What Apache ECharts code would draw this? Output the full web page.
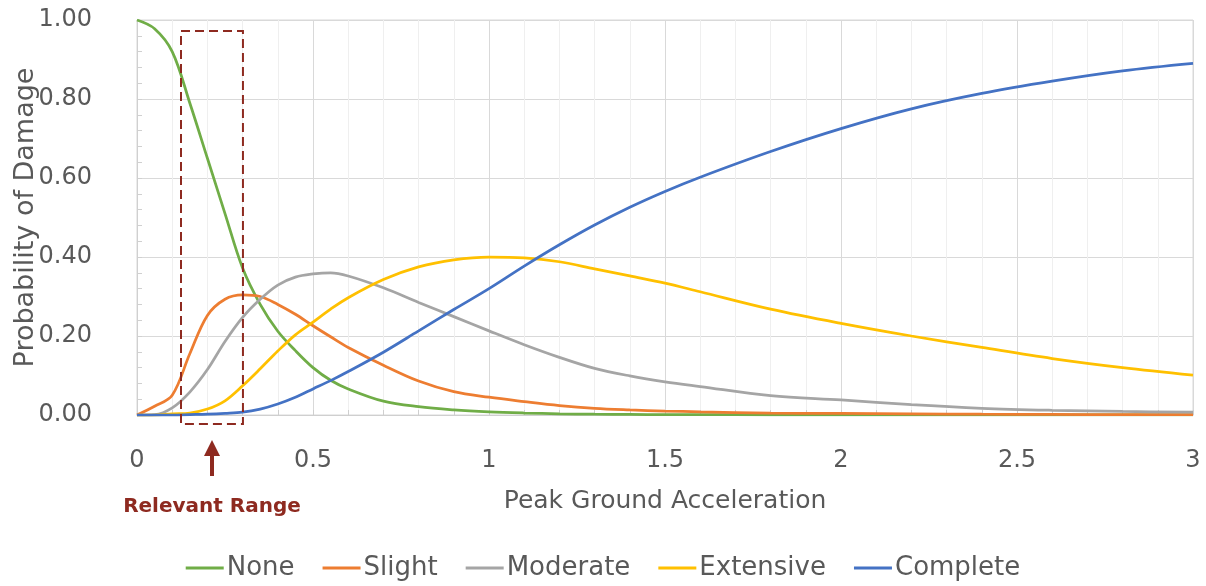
<!DOCTYPE html>
<html>
<head>
<meta charset="utf-8">
<script src="https://cdn.jsdelivr.net/npm/echarts@6/dist/echarts.min.js"></script>
<style>html,body{margin:0;padding:0;background:#fff;}#c{width:1206px;height:586px;}</style>
</head>
<body>
<div id="c"></div>
<script>
// Peak ground acceleration sample points
const pga = [0, 0.05, 0.1, 0.15, 0.2, 0.25, 0.3, 0.35, 0.4, 0.45, 0.5, 0.55, 0.6, 0.7, 0.8, 0.9, 1.0, 1.1, 1.2, 1.3, 1.4, 1.5, 1.6, 1.8, 2.0, 2.2, 2.4, 2.6, 2.8, 3.0];
const none      = [1.00, 0.978, 0.92, 0.79, 0.65, 0.51, 0.372, 0.28, 0.212, 0.163, 0.12, 0.088, 0.066, 0.035, 0.021, 0.013, 0.008, 0.005, 0.003, 0.002, 0.0015, 0.001, 0.0008, 0.0005, 0.0003, 0.0002, 0.0001, 0.0001, 0.0001, 0.0001];
const slight    = [0, 0.022, 0.05, 0.155, 0.252, 0.293, 0.304, 0.30, 0.28, 0.255, 0.226, 0.198, 0.171, 0.126, 0.086, 0.059, 0.045, 0.034, 0.024, 0.017, 0.013, 0.010, 0.008, 0.005, 0.004, 0.003, 0.002, 0.0015, 0.001, 0.001];
const moderate  = [0, 0.001, 0.018, 0.058, 0.115, 0.186, 0.247, 0.293, 0.329, 0.349, 0.357, 0.36, 0.352, 0.322, 0.285, 0.249, 0.213, 0.178, 0.146, 0.118, 0.099, 0.084, 0.072, 0.049, 0.038, 0.026, 0.017, 0.012, 0.009, 0.007];
const extensive = [0, 0, 0.003, 0.005, 0.015, 0.036, 0.074, 0.117, 0.162, 0.203, 0.235, 0.268, 0.297, 0.343, 0.375, 0.393, 0.40, 0.398, 0.388, 0.37, 0.352, 0.334, 0.312, 0.268, 0.232, 0.20, 0.171, 0.143, 0.12, 0.101];
const complete  = [0, 0, 0, 0.001, 0.002, 0.004, 0.007, 0.015, 0.028, 0.045, 0.066, 0.087, 0.11, 0.159, 0.213, 0.267, 0.32, 0.377, 0.431, 0.481, 0.526, 0.566, 0.602, 0.667, 0.725, 0.775, 0.814, 0.845, 0.871, 0.89];
const seriesNames = ['None', 'Slight', 'Moderate', 'Extensive', 'Complete'];
const yTickLabels = ['0.00', '0.20', '0.40', '0.60', '0.80', '1.00'];
const relevantRange = [0.125, 0.301];

const colors = ['#70AD47', '#ED7D31', '#A5A5A5', '#FFC000', '#4472C4'];
const allData = [none, slight, moderate, extensive, complete];
const FONT = '"DejaVu Sans", sans-serif';
const RED = '#8E2A20';
const TXT = '#595959';

const chart = echarts.init(document.getElementById('c'));
const option = {
  animation: false,
  backgroundColor: '#fff',
  grid: { left: 137, right: 13, top: 20, bottom: 171, containLabel: false, outerBoundsMode: 'none',
    show: true, borderColor: '#d9d9d9', borderWidth: 1, backgroundColor: 'transparent' },
  legend: {
    bottom: 0, left: 'center', icon: 'rect', itemWidth: 38, itemHeight: 3, itemGap: 28,
    textStyle: { fontFamily: FONT, fontSize: 26, color: TXT, padding: [0, 0, 0, -2] },
    data: seriesNames
  },
  xAxis: {
    type: 'value', min: 0, max: 3, interval: 0.5,
    name: 'Peak Ground Acceleration', nameLocation: 'middle', nameGap: 74, nameMoveOverlap: false,
    nameTextStyle: { fontFamily: FONT, fontSize: 25, color: TXT },
    axisLine: { lineStyle: { color: '#cfcfcf', width: 1 } },
    axisTick: { show: true, inside: true, length: 5, lineStyle: { color: '#cfcfcf' } },
    minorTick: { show: true, splitNumber: 5, length: 5, lineStyle: { color: '#cfcfcf' } },
    axisLabel: { fontFamily: FONT, fontSize: 24, color: TXT, margin: 34 },
    splitLine: { show: true, lineStyle: { color: '#d9d9d9', width: 1 } },
    minorSplitLine: { show: true, lineStyle: { color: '#efefef', width: 1 } }
  },
  yAxis: {
    type: 'value', min: 0, max: 1, interval: 0.2,
    name: 'Probability of Damage', nameLocation: 'middle', nameGap: 98, nameRotate: 90, nameMoveOverlap: false,
    nameTextStyle: { fontFamily: FONT, fontSize: 27, color: TXT },
    axisLine: { show: true, lineStyle: { color: '#d0d0d0', width: 1 } },
    axisTick: { show: true, inside: true, length: 5, lineStyle: { color: '#d0d0d0' } },
    minorTick: { show: true, splitNumber: 5, length: 5, lineStyle: { color: '#d0d0d0' } },
    axisLabel: { fontFamily: FONT, fontSize: 24, color: TXT, margin: 30, align: 'right', padding: [0, 15, 0, 0],
      formatter: function (v) { return yTickLabels[Math.round(v / 0.2)]; } },
    splitLine: { show: true, lineStyle: { color: '#d9d9d9', width: 1 } }
  },
  series: seriesNames.map(function (n, i) {
    return {
      name: n, type: 'line', showSymbol: false, symbol: 'none', smooth: 0.35,
      lineStyle: { color: colors[i], width: 2.75 }, itemStyle: { color: colors[i] },
      data: pga.map(function (x, k) { return [x, allData[i][k]]; })
    };
  })
};
chart.setOption(option);

// Annotation: dashed "relevant range" box, arrow and label
const tl = chart.convertToPixel({ gridIndex: 0 }, [relevantRange[0], 0.972]);
const br = chart.convertToPixel({ gridIndex: 0 }, [relevantRange[1], -0.023]);
const ax = chart.convertToPixel({ gridIndex: 0 }, [(relevantRange[0] + relevantRange[1]) / 2, 0]);
const cx = ax[0], y0 = ax[1];
chart.setOption({
  graphic: [
    { type: 'rect', shape: { x: tl[0], y: tl[1], width: br[0] - tl[0], height: br[1] - tl[1] },
      style: { fill: 'none', stroke: RED, lineWidth: 2, lineDash: [9, 5] }, z: 100 },
    { type: 'rect', shape: { x: cx - 2, y: y0 + 38, width: 4, height: 23 }, style: { fill: RED }, z: 100 },
    { type: 'polygon', shape: { points: [[cx, y0 + 25], [cx - 8, y0 + 41], [cx + 8, y0 + 41]] }, style: { fill: RED }, z: 100 },
    { type: 'text', x: cx, y: y0 + 92, style: { text: 'Relevant Range', fill: RED, font: 'bold 20px "DejaVu Sans", sans-serif', textAlign: 'center', textVerticalAlign: 'middle' }, z: 100 }
  ]
});
</script>
</body>
</html>
